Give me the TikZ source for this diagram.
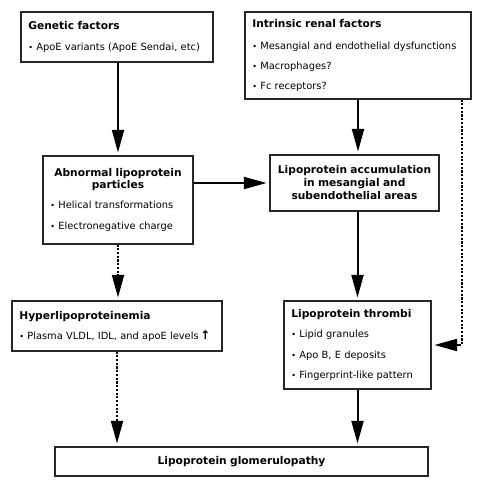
\documentclass[tikz,border=0pt]{standalone}
\usepackage{fontspec}
\setmainfont{DejaVu Sans}
\usetikzlibrary{arrows.meta}
\newcommand{\itm}{{\fontsize{6}{9}\selectfont\textbullet}\ }
\newcommand{\ttl}[1]{{\fontsize{8}{9}\selectfont\bfseries #1}}
\newcommand{\boxfont}{\fontsize{7.4}{9}\selectfont\hyphenpenalty=10000\relax}
\begin{document}
\begin{tikzpicture}[x=0.75pt,y=-0.75pt,
    box/.style={draw=black!85, line width=0.8pt, inner xsep=5.5pt, inner ysep=0pt,
        align=left, font=\boxfont},
    arr/.style={line width=1.5pt, -{Triangle[length=17pt,width=9pt]}, shorten >=2.2pt},
    dots/.style={arr, dash pattern=on 1.6pt off 1.2pt}]
    \useasboundingbox (0,0) rectangle (482,488);
    % Boxes
    \node[box, minimum width=144pt, minimum height=37.5pt, text width=133pt] (gen) at (117,37)
        {\ttl{Genetic factors}\\[6.75pt]\itm ApoE variants (ApoE Sendai, etc)};
    \node[box, minimum width=169.5pt, minimum height=65.25pt, text width=158.5pt] (renal) at (358,55.5)
        {\ttl{Intrinsic renal factors}\\[7.5pt]\mbox{\itm Mesangial and endothelial dysfunctions}\\[6pt]
         \itm Macrophages?\\[6pt]\itm Fc receptors?};
    \node[box, minimum width=112.5pt, minimum height=66pt, text width=101.5pt] (abn) at (118,200)
        {{\centering\ttl{Abnormal lipoprotein\\particles}\par}\vspace{6pt}
         \itm Helical transformations\\[6.5pt]\itm Electronegative charge};
    \node[box, minimum width=126.75pt, minimum height=42pt, text width=115.75pt, align=center] (acc) at (354.5,183)
        {\ttl{Lipoprotein accumulation\\[0.75pt]in mesangial and\\[0.75pt]subendothelial areas}};
    \node[box, minimum width=157.5pt, minimum height=37.5pt, text width=146.5pt] (hyp) at (117,326)
        {\ttl{Hyperlipoproteinemia}\\[6pt]\mbox{\itm Plasma VLDL, IDL, and apoE levels\,{\bfseries\fontsize{9}{9}\selectfont ↑}}};
    \node[box, minimum width=110.25pt, minimum height=66pt, text width=99.25pt] (thr) at (357.5,345)
        {\ttl{Lipoprotein thrombi}\\[6pt]\itm Lipid granules\\[6.5pt]\itm Apo B, E deposits\\[6pt]
         \mbox{\itm Fingerprint-like pattern}};
    \node[box, minimum width=279.75pt, minimum height=21.75pt, text width=268.75pt, align=center] (glom) at (241.5,461.5)
        {\ttl{Lipoprotein glomerulopathy}};
    % Arrows
    \draw[arr] (gen.south -| abn) -- (abn.north);
    \draw[arr] (renal.south) -- (renal.south |- acc.north);
    \draw[arr] (acc.west -| abn.east) -- (acc.west);
    \draw[arr] (acc.south -| thr) -- (thr.north);
    \draw[arr] (thr.south) -- (thr.south |- glom.north);
    % Dotted arrows
    \coordinate (side) at ([xshift=-7.5pt]renal.south east);
    \draw[dots] (side) |- (thr.east);
    \draw[dots] (abn.south) -- (abn.south |- hyp.north);
    \draw[dots] (hyp.south) -- (hyp.south |- glom.north);
\end{tikzpicture}
\end{document}
